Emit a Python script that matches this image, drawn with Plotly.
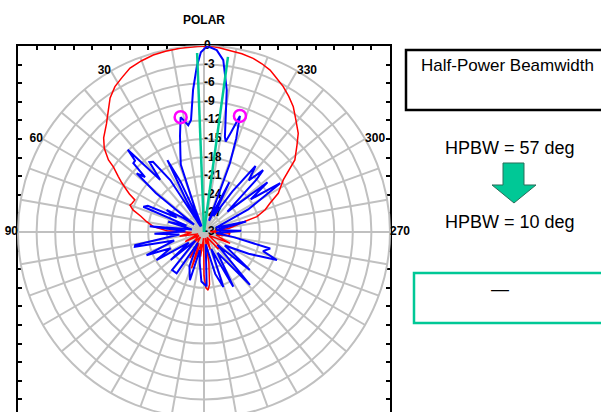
import plotly.graph_objects as go

# ---------------- data ----------------
blue_theta = [-177.2, -172, -165, -160.6, -157, -151.8, -147, -139, -134, -129.6, -123, -116, -111, -108, -104,
              -100, -95, -88, -82, -76, -70, -63, -57.4, -55, -52, -49, -45, -43.7, -41, -38, -35, -31, -27,
              -24, -20.7, -19, -17.2, -15, -13.5, -12.4, -9.1, -6.4, -4, -1, 1, 2.5, 4.4, 6.6, 8.4, 11.5, 14,
              17, 19, 21, 23, 25, 27, 29, 31, 33, 36, 38, 40, 42.8, 44, 45.8, 47, 48.9, 51, 53, 56, 59.5, 62,
              65, 67.4, 70, 74, 78, 84, 88, 92, 96, 100.7, 102, 106, 112, 116, 120.6, 125, 130, 135, 140,
              146.5, 150, 157, 163.7, 167, 172, 177, -177.2]
blue_db = [-21.2, -28, -23, -20.6, -27, -20, -26, -18.7, -27, -20.4, -26, -22, -17.4, -20, -19,
           -25, -28, -24, -28, -23, -28, -22, -15.4, -20.8, -17, -25, -18, -16.2, -19, -16.5, -22, -27, -21,
           -28, -18.2, -14, -10.4, -13.5, -15, -14.3, -6.8, -2.1, -0.6, 0, -1, -3.3, -7, -11.8, -12.6, -11.1, -14,
           -17, -18.5, -26, -29, -21, -17, -24, -29, -20, -16, -15.7, -19, -11.9, -14, -14.1, -17, -15.6, -20, -28, -26, -23, -25,
           -20, -19.4, -27, -24, -28, -21.2, -27, -22, -26, -18.7, -18.6, -25, -20, -24, -21.1, -27, -23, -28, -22,
           -22, -28, -24, -21.9, -27, -25, -22, -21.2]

red_theta = [-178, -176, -174, -171, -168, -160, -150, -140, -132.6, -125, -113.5, -105, -98, -93, -88, -82, -78,
             -76.4, -73.8, -70, -66.5, -62.5, -56.7, -51.6, -47, -43.7, -39, -35.5, -32, -28.6, -25, -22.2, -19,
             -15.8, -12, -9.2, -5, -2, 2, 7.4, 12, 16, 20, 24.3, 28, 31.5, 35, 38.1, 42, 46.8, 50, 53, 54.3, 57,
             59, 61.5, 63, 65.1, 68.4, 70, 72.7, 76, 79.8, 84, 88, 92, 100, 108, 117, 125, 135, 145, 151.7, 156,
             161, 166, 172, 176, 180, -178]
red_db = [-21, -20.6, -21.5, -25, -29, -27, -29, -26.5, -26.5, -29, -25.4, -28, -26, -25.8, -29, -26, -24.5,
          -24, -21.1, -19.5, -18.4, -16.5, -14.7, -11.3, -9.5, -8, -6.5, -5.2, -4.2, -3.3, -2.5, -1.8, -1.3,
          -0.9, -0.6, -0.5, -0.2, 0, -0.05, -0.1, -0.2, -0.3, -0.6, -1, -1.8, -2.5, -3.6, -5, -6.5, -7.8, -9, -10.7, -12, -13.5,
          -14.5, -15.8, -16.5, -17.7, -17.5, -17.3, -18, -19.5, -20.6, -21.8, -24, -28, -26, -29, -26.6, -29, -27, -29, -25.2, -28,
          -23.8, -28, -26, -29, -23, -21]

hpbw_theta = [2.2, 2.2, None, -7.8, -7.8]
hpbw_db = [-30, -1.1, None, -30, -1.5]

peak_theta = [11.5, -17.2]
peak_db = [-11.1, -10.4]

radial_ticks = [-30, -27, -24, -21, -18, -15, -12, -9, -6, -3, 0]
radial_labels = ["-30", "-27", "-24", "-21", "-18", "-15", "-12", "-9", "-6", "-3", "0"]
angle_ticks = list(range(0, 360, 10))
angle_label_vals = [30, 60, 90, 270, 300, 330]
angle_label_text = ["30", "60", "90", "270", "300", "330"]

title_text = "POLAR"
box1_text = "Half-Power Beamwidth"
hpbw_before = "HPBW = 57 deg"
hpbw_after = "HPBW = 10 deg"
box2_text = "\u2014"

# ---------------- layout helpers ----------------
W, H = 601, 424
def px(x):
    return x / W
def py(y):
    return 1 - y / H

GRID = "#c0c0c0"
GREEN = "#00c896"
LBL_FONT = dict(family="Liberation Sans, Arial, sans-serif", size=12, color="black", weight="bold")
TITLE_FONT = dict(family="Liberation Sans Narrow, Arial Narrow, Liberation Sans, Arial, sans-serif",
                  size=12, color="black", weight="bold")
TXT_FONT = dict(family="Liberation Sans, Arial, sans-serif", size=17, color="black")

fig = go.Figure()

# radial labels (drawn first so curves lie over them)
fig.add_trace(go.Scatterpolar(theta=[0] * len(radial_ticks), r=radial_ticks, mode="text",
                              text=radial_labels, textposition="middle right", textfont=LBL_FONT,
                              cliponaxis=False, showlegend=False, hoverinfo="skip"))
# angular labels
fig.add_trace(go.Scatterpolar(theta=angle_label_vals, r=[0] * len(angle_label_vals), mode="text",
                              text=angle_label_text,
                              textposition=["middle left"] * 3 + ["middle right"] * 3,
                              textfont=LBL_FONT, cliponaxis=False, showlegend=False, hoverinfo="skip"))

fig.add_trace(go.Scatterpolar(theta=red_theta, r=red_db, mode="lines",
                              line=dict(color="#ff0000", width=1.5), showlegend=False, hoverinfo="skip"))
fig.add_trace(go.Scatterpolar(theta=blue_theta, r=blue_db, mode="lines",
                              line=dict(color="#0000ff", width=2), showlegend=False, hoverinfo="skip"))
fig.add_trace(go.Scatterpolar(theta=hpbw_theta, r=hpbw_db, mode="lines",
                              line=dict(color=GREEN, width=2.5), showlegend=False, hoverinfo="skip"))
fig.add_trace(go.Scatterpolar(theta=peak_theta, r=peak_db, mode="markers",
                              marker=dict(symbol="circle-open", size=12, color="#ff00ff", line=dict(width=2.5)),
                              showlegend=False, hoverinfo="skip"))
# invisible cartesian trace so the frame axes are drawn
fig.add_trace(go.Scatter(x=[], y=[], showlegend=False, hoverinfo="skip"))

x_dom = [px(18), px(390)]
y_dom = [py(418), py(46)]

fig.update_layout(
    width=W, height=H,
    margin=dict(l=0, r=0, t=0, b=0),
    paper_bgcolor="white",
    plot_bgcolor="rgba(0,0,0,0)",
    polar=dict(
        domain=dict(x=x_dom, y=y_dom),
        bgcolor="white",
        angularaxis=dict(rotation=90, direction="counterclockwise",
                         tickmode="array", tickvals=angle_ticks, showticklabels=False,
                         showgrid=True, gridcolor=GRID, gridwidth=2,
                         showline=True, linecolor=GRID, linewidth=2,
                         ticks="", layer="below traces"),
        radialaxis=dict(range=[-30, 0], tickmode="array", tickvals=radial_ticks, showticklabels=False,
                        angle=90, showline=False, showgrid=True,
                        gridcolor=GRID, gridwidth=2, ticks="", layer="below traces"),
    ),
    xaxis=dict(domain=x_dom, range=[-10, 10], tick0=0, dtick=1, showline=True, linecolor="black",
               linewidth=2, mirror="ticks", ticks="inside", ticklen=4, tickwidth=1.5, tickcolor="black",
               showticklabels=False, showgrid=False, zeroline=False, fixedrange=True),
    yaxis=dict(domain=y_dom, range=[-10, 10], tick0=0, dtick=1, showline=True, linecolor="black",
               linewidth=2, mirror="ticks", ticks="inside", ticklen=4, tickwidth=1.5, tickcolor="black",
               showticklabels=False, showgrid=False, zeroline=False, fixedrange=True),
)

# boxes and arrow
fig.add_shape(type="rect", xref="paper", yref="paper", x0=px(406), x1=px(640), y0=py(110), y1=py(50),
              line=dict(color="black", width=2.5), fillcolor="rgba(0,0,0,0)")
fig.add_shape(type="rect", xref="paper", yref="paper", x0=px(414), x1=px(640), y0=py(323), y1=py(273),
              line=dict(color=GREEN, width=2.5), fillcolor="rgba(0,0,0,0)")
arrow = [(503, 163), (524, 163), (524, 185), (536, 185), (514, 203), (492, 185), (503, 185)]
path = "M " + " L ".join(f"{px(x):.5f},{py(y):.5f}" for x, y in arrow) + " Z"
fig.add_shape(type="path", xref="paper", yref="paper", path=path,
              fillcolor=GREEN, line=dict(color="#2a6e5a", width=1))

def text(x, y, s, font, xanchor="center"):
    fig.add_annotation(x=px(x), y=py(y), xref="paper", yref="paper", text=s, showarrow=False,
                       xanchor=xanchor, yanchor="middle", font=font)

text(204, 20, title_text, TITLE_FONT)
text(507, 65, box1_text, TXT_FONT)
text(510, 148, hpbw_before, dict(TXT_FONT, size=18))
text(510, 222, hpbw_after, dict(TXT_FONT, size=18))
text(500, 289, box2_text, dict(TXT_FONT, size=18))

fig.write_html("out.html",
               post_script="document.documentElement.style.overflow='hidden';document.body.style.overflow='hidden';")
